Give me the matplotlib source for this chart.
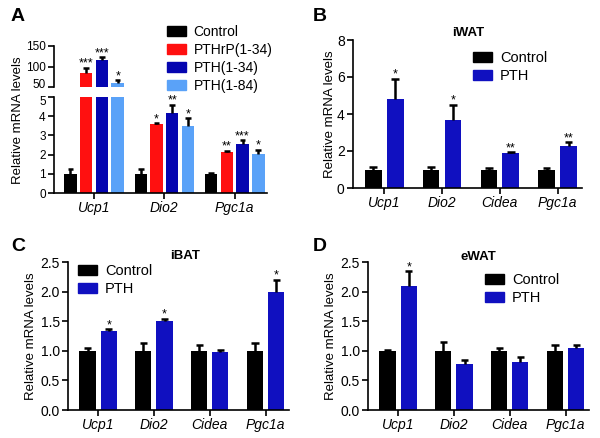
import numpy as np
import matplotlib
matplotlib.use("Agg")
import matplotlib.pyplot as plt
import matplotlib.transforms as mtransforms
from matplotlib.patches import Patch

plt.rcParams['font.family'] = ['Liberation Sans', 'DejaVu Sans']

# ---------------- data ----------------
genes_a = ["Ucp1", "Dio2", "Pgc1a"]
series_a = ["Control", "PTHrP(1-34)", "PTH(1-34)", "PTH(1-84)"]
vals_a = [[1.0, 1.0, 1.0],
          [85, 3.6, 2.15],
          [116, 4.15, 2.55],
          [60.5, 3.5, 2.05]]
errs_a = [[0.25, 0.25, 0.02],
          [12, 0.05, 0.05],
          [7, 0.45, 0.2],
          [6, 0.4, 0.2]]
stars_a = [["", "", ""],
           ["***", "*", "**"],
           ["***", "**", "***"],
           ["*", "*", "*"]]

genes = ["Ucp1", "Dio2", "Cidea", "Pgc1a"]
series2 = ["Control", "PTH"]

iwat_ctrl = [1.0, 1.0, 1.0, 1.0]
iwat_ctrl_err = [0.12, 0.12, 0.08, 0.08]
iwat_pth = [4.8, 3.7, 1.9, 2.27]
iwat_pth_err = [1.1, 0.8, 0.04, 0.2]
iwat_stars = ["*", "*", "**", "**"]

ibat_ctrl = [1.0, 1.0, 1.0, 1.0]
ibat_ctrl_err = [0.05, 0.13, 0.1, 0.14]
ibat_pth = [1.33, 1.51, 0.98, 2.0]
ibat_pth_err = [0.03, 0.03, 0.03, 0.2]
ibat_stars = ["*", "*", "", "*"]

ewat_ctrl = [1.0, 1.0, 1.0, 1.0]
ewat_ctrl_err = [0.02, 0.15, 0.05, 0.1]
ewat_pth = [2.1, 0.77, 0.81, 1.05]
ewat_pth_err = [0.25, 0.08, 0.08, 0.05]
ewat_stars = ["*", "", "", ""]

colors_a = ["#000000", "#FF1010", "#0505B0", "#5AA2F8"]
colors2 = ["#000000", "#1010C0"]

W, H = 600, 438
fig = plt.figure(figsize=(6, 4.38), dpi=100)


def fx(px):
    return px / W


def fy(py):
    return 1 - py / H


def add_ax(x0, x1, y0, y1):
    return fig.add_axes([fx(x0), fy(y1), fx(x1) - fx(x0), fy(y0) - fy(y1)])


def style(ax, bottom=True):
    for s in ["top", "right"]:
        ax.spines[s].set_visible(False)
    ax.spines["left"].set_linewidth(1.2)
    ax.spines["bottom"].set_linewidth(1.2)
    if not bottom:
        ax.spines["bottom"].set_visible(False)
    ax.tick_params(axis="both", width=1.2, length=4, labelsize=9.5, pad=2)


def bars(ax, x, vals, errs, color, width, stars=None, fs=9):
    vals = np.asarray(vals, float)
    errs = np.asarray(errs, float)
    ax.bar(x, vals, width=width, color=color, zorder=2)
    ax.vlines(x, vals, vals + errs, color="black", lw=1.8, zorder=3)
    cap = width * 0.45
    ax.hlines(vals + errs, x - cap / 2, x + cap / 2, color="black", lw=1.8, zorder=3)
    if stars is not None:
        for xi, v, e, s in zip(x, vals, errs, stars):
            if s:
                ax.annotate(s, (xi, v + e), xytext=(0, -1.5), textcoords="offset points",
                            ha="center", va="bottom", fontsize=fs, annotation_clip=False)


# ---------------- Panel A ----------------
ax_up = add_ax(54, 267, 46, 87)
ax_lo = add_ax(54, 267, 97, 193)
xa = np.arange(len(genes_a))
pitch = 0.224
bw = 0.177
for i, (v, e, c, st) in enumerate(zip(vals_a, errs_a, colors_a, stars_a)):
    xs = xa + (i - 1.5) * pitch
    bars(ax_lo, xs, v, e, c, bw)
    bars(ax_up, xs, v, e, c, bw)
    for xi, vi, ei, si in zip(xs, v, e, st):
        if not si:
            continue
        target = ax_up if vi > 5 else ax_lo
        target.annotate(si, (xi, vi + ei), xytext=(0, -1.5), textcoords="offset points",
                        ha="center", va="bottom", fontsize=9, annotation_clip=False)
for ax in (ax_up, ax_lo):
    ax.set_xlim(-0.57, 2.46)
ax_up.set_ylim(50, 150)
ax_up.set_yticks([50, 100, 150])
ax_up.set_xticks([])
style(ax_up, bottom=False)
ax_up.tick_params(axis="y", labelsize=8.5)
ax_lo.set_ylim(0, 5)
ax_lo.set_yticks(range(6))
ax_lo.set_xticks(xa)
ax_lo.set_xticklabels(genes_a, style="italic")
style(ax_lo)
ax_lo.tick_params(axis="x", labelsize=10)
ax_lo.tick_params(axis="y", labelsize=8.5)
fig.canvas.draw()
lab50 = ax_up.get_yticklabels()[0]
lab50.set_transform(lab50.get_transform() +
                    mtransforms.ScaledTranslation(0, 2.5 / 72, fig.dpi_scale_trans))
lab5 = ax_lo.get_yticklabels()[-1]
lab5.set_transform(lab5.get_transform() +
                   mtransforms.ScaledTranslation(0, -2.5 / 72, fig.dpi_scale_trans))
fig.text(fx(18), fy(120), "Relative mRNA levels", rotation=90, ha="center", va="center",
         fontsize=9.5)
handles = [Patch(color=c, label=l) for c, l in zip(colors_a, series_a)]
fig.legend(handles=handles, loc="upper left", bbox_to_anchor=(fx(167), fy(25)),
           frameon=False, fontsize=10, handlelength=1.4, handleheight=0.75,
           handletextpad=0.5, labelspacing=0.28, borderpad=0, borderaxespad=0)


def panel2(box, ctrl, ctrl_err, pth, pth_err, stars, ylim, yticks, yfmt, title, title_xy,
           leg_xy, ylab_x):
    ax = add_ax(*box)
    x = np.arange(len(genes))
    bw2 = 0.29
    off = 0.19
    bars(ax, x - off, ctrl, ctrl_err, colors2[0], bw2)
    bars(ax, x + off, pth, pth_err, colors2[1], bw2, stars=stars)
    ax.set_xlim(-0.54, 3.42)
    ax.set_ylim(*ylim)
    ax.set_yticks(yticks)
    ax.set_yticklabels([yfmt.format(t) for t in yticks])
    ax.set_xticks(x)
    ax.set_xticklabels(genes, style="italic")
    style(ax)
    ax.tick_params(axis="x", labelsize=10)
    ax.tick_params(axis="y", labelsize=10)
    fig.text(fx(title_xy[0]), fy(title_xy[1]), title, ha="center", va="center",
             fontsize=9.5, fontweight="bold")
    h = [Patch(color=c, label=l) for c, l in zip(colors2, series2)]
    fig.legend(handles=h, loc="upper left", bbox_to_anchor=(fx(leg_xy[0]), fy(leg_xy[1])),
               frameon=False, fontsize=10.5, handlelength=1.3, handleheight=0.75,
               handletextpad=0.55, labelspacing=0.28, borderpad=0, borderaxespad=0)
    fig.text(fx(ylab_x), fy((box[2] + box[3]) / 2), "Relative mRNA levels", rotation=90,
             ha="center", va="center", fontsize=9.5)
    return ax


panel2((353, 582, 40, 188), iwat_ctrl, iwat_ctrl_err, iwat_pth, iwat_pth_err, iwat_stars,
       (0, 8), [0, 2, 4, 6, 8], "{:d}", "iWAT", (468, 33), (473, 51), 330)
panel2((68, 289, 262, 410), ibat_ctrl, ibat_ctrl_err, ibat_pth, ibat_pth_err, ibat_stars,
       (0, 2.5), [0, 0.5, 1.0, 1.5, 2.0, 2.5], "{:.1f}", "iBAT", (185, 256), (78, 264), 31)
panel2((368, 589, 262, 410), ewat_ctrl, ewat_ctrl_err, ewat_pth, ewat_pth_err, ewat_stars,
       (0, 2.5), [0, 0.5, 1.0, 1.5, 2.0, 2.5], "{:.1f}", "eWAT", (478, 257), (485, 273), 331)

for lbl, (px, py) in zip("ABCD", [(11, 8), (313, 8), (11, 238), (313, 238)]):
    fig.text(fx(px), fy(py), lbl, ha="left", va="top", fontsize=14, fontweight="bold")

fig.savefig("out.png", dpi=100)
